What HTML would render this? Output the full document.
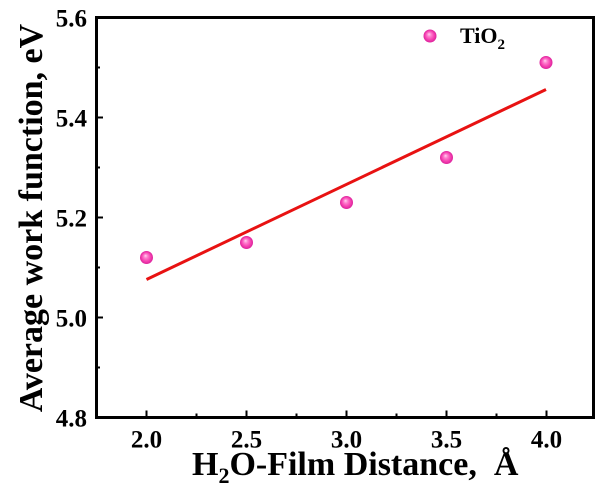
<!DOCTYPE html>
<html>
<head>
<meta charset="utf-8">
<style>
html,body{margin:0;padding:0;background:#fff;}
svg{display:block;}
svg text{font-family:"Liberation Serif","Times New Roman",serif !important;font-weight:700;fill:#000;}
</style>
</head>
<body>
<svg width="600" height="488" viewBox="0 0 600 488" xmlns="http://www.w3.org/2000/svg" font-family="Liberation Serif, serif" font-weight="700">
<defs>
<radialGradient id="sph" cx="0.5" cy="0.5" r="0.5" fx="0.42" fy="0.35">
<stop offset="0" stop-color="#ffd6f0"/>
<stop offset="0.3" stop-color="#ff80cf"/>
<stop offset="0.7" stop-color="#f540b0"/>
<stop offset="1" stop-color="#dc229c"/>
</radialGradient>
</defs>
<rect width="600" height="488" fill="#fff"/>

<line x1="146.5" y1="279.5" x2="546" y2="89.5" stroke="#e81212" stroke-width="3"/>

<g stroke="#000" stroke-width="2">
<line x1="96" y1="17.5" x2="103" y2="17.5"/>
<line x1="96" y1="117.5" x2="103" y2="117.5"/>
<line x1="96" y1="217.5" x2="103" y2="217.5"/>
<line x1="96" y1="317.5" x2="103" y2="317.5"/>
<line x1="96" y1="67.5" x2="100" y2="67.5"/>
<line x1="96" y1="167.5" x2="100" y2="167.5"/>
<line x1="96" y1="267.5" x2="100" y2="267.5"/>
<line x1="96" y1="367.5" x2="100" y2="367.5"/>
<line x1="146.5" y1="417.5" x2="146.5" y2="410.5"/>
<line x1="246.5" y1="417.5" x2="246.5" y2="410.5"/>
<line x1="346.5" y1="417.5" x2="346.5" y2="410.5"/>
<line x1="446.5" y1="417.5" x2="446.5" y2="410.5"/>
<line x1="546.5" y1="417.5" x2="546.5" y2="410.5"/>
<line x1="196.5" y1="417.5" x2="196.5" y2="413.5"/>
<line x1="296.5" y1="417.5" x2="296.5" y2="413.5"/>
<line x1="396.5" y1="417.5" x2="396.5" y2="413.5"/>
<line x1="496.5" y1="417.5" x2="496.5" y2="413.5"/>
</g>

<rect x="96.5" y="17.5" width="497" height="400" fill="none" stroke="#000" stroke-width="3"/>

<g fill="url(#sph)">
<circle cx="146.5" cy="257.5" r="6.5"/>
<circle cx="246.5" cy="242.5" r="6.5"/>
<circle cx="346.5" cy="202.5" r="6.5"/>
<circle cx="446.5" cy="157.5" r="6.5"/>
<circle cx="546" cy="62.5" r="6.5"/>
<circle cx="430" cy="36" r="6.5"/>
</g>

<text x="460" y="43" font-size="22">TiO<tspan font-size="15" dy="6">2</tspan></text>

<g font-size="25" text-anchor="end">
<text x="87" y="26.5">5.6</text>
<text x="87" y="126.5">5.4</text>
<text x="87" y="226.5">5.2</text>
<text x="87" y="326.5">5.0</text>
<text x="87" y="426.5">4.8</text>
</g>

<g font-size="25" text-anchor="middle">
<text x="146.5" y="447.5">2.0</text>
<text x="246.5" y="447.5">2.5</text>
<text x="346.5" y="447.5">3.0</text>
<text x="446.5" y="447.5">3.5</text>
<text x="546.5" y="447.5">4.0</text>
</g>

<text x="192" y="475" font-size="34" xml:space="preserve">H<tspan font-size="22" dy="8">2</tspan><tspan dy="-8">O-Film Distance,  Å</tspan></text>
<text transform="translate(42,218) rotate(-90)" font-size="34" text-anchor="middle">Average work function, eV</text>
</svg>
</body>
</html>
